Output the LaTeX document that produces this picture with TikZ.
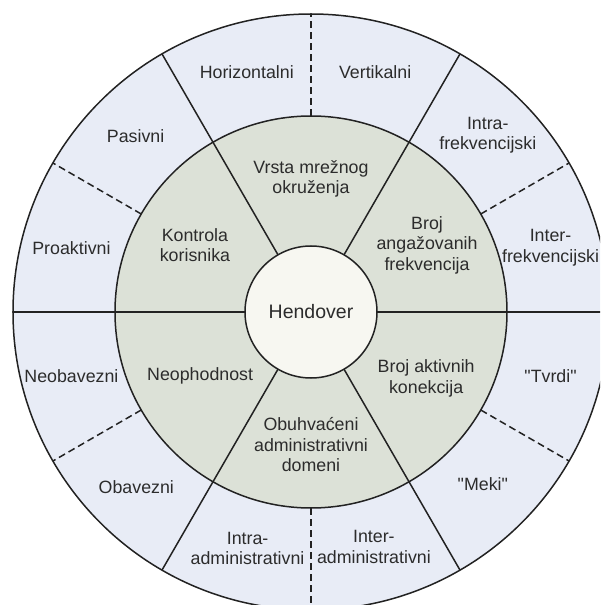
\documentclass[tikz,border=0pt]{standalone}
\usepackage{fontspec}
\setmainfont{Liberation Sans}
\definecolor{ringout}{HTML}{E8ECF6}
\definecolor{ringmid}{HTML}{DCE1D7}
\definecolor{hubfill}{HTML}{F7F7F1}
\definecolor{ink}{HTML}{222222}
\definecolor{txt}{HTML}{2C2C2C}
\begin{document}
\begin{tikzpicture}[x=1pt,y=1pt,
  ring/.style={circle, draw=ink, line width=1.5pt, inner sep=0pt, outer sep=0pt},
  spoke/.style={draw=ink, line width=1.5pt},
  divider/.style={draw=ink, line width=1.5pt, dash pattern=on 7pt off 4pt},
  lbl/.style={text=txt, align=center, font=\fontsize{17.8}{20.5}\selectfont, inner sep=0pt}]
\useasboundingbox (-311,-293) rectangle (289,312);
\clip (-311,-293) rectangle (289,312);
\node[ring, fill=ringout, minimum size=596pt] (outer) at (0,0) {};
\node[ring, fill=ringmid, minimum size=392pt] (mid) at (0,0) {};
\node[ring, fill=hubfill, minimum size=132pt, text=txt, font=\fontsize{19.5}{23}\selectfont] (hub) at (0,0) {Hendover};
\foreach \a in {0,60,...,300} \draw[spoke] (hub.\a) -- (outer.\a);
\foreach \a in {30,90,...,330} \draw[divider] (mid.\a) -- (outer.\a);
% middle ring labels
\node[lbl] (vrsta) at (90:133) {Vrsta mrežnog\\okruženja};
\node[lbl] (angaz) at (30:134) {Broj\\angažovanih\\frekvencija};
\node[lbl] (aktiv) at (-30:133) {Broj aktivnih\\konekcija};
\node[lbl] (obuhv) at (-90:133) {Obuhvaćeni\\administrativni\\domeni};
\node[lbl] (neoph) at (210:128) {Neophodnost};
\node[lbl] (kontr) at (150:134) {Kontrola\\korisnika};
% outer ring labels
\node[lbl] (horiz) at (105:248) {Horizontalni};
\node[lbl] (vert) at (75:248) {Vertikalni};
\node[lbl] (intraf) at (45:250) {Intra-\\frekvencijski};
\node[lbl] (interf) at (15:248) {Inter-\\frekvencijski};
\node[lbl] (tvrdi) at (-15:248) {\textquotedbl Tvrdi\textquotedbl};
\node[lbl] (meki) at (-45:243) {\textquotedbl Meki\textquotedbl};
\node[lbl] (intera) at (-75:243) {Inter-\\administrativni};
\node[lbl] (intraa) at (-105:245) {Intra-\\administrativni};
\node[lbl] (obav) at (-135:247) {Obavezni};
\node[lbl] (neobav) at (-165:248) {Neobavezni};
\node[lbl] (proakt) at (165:248) {Proaktivni};
\node[lbl] (pasiv) at (135:248) {Pasivni};
\end{tikzpicture}
\end{document}
